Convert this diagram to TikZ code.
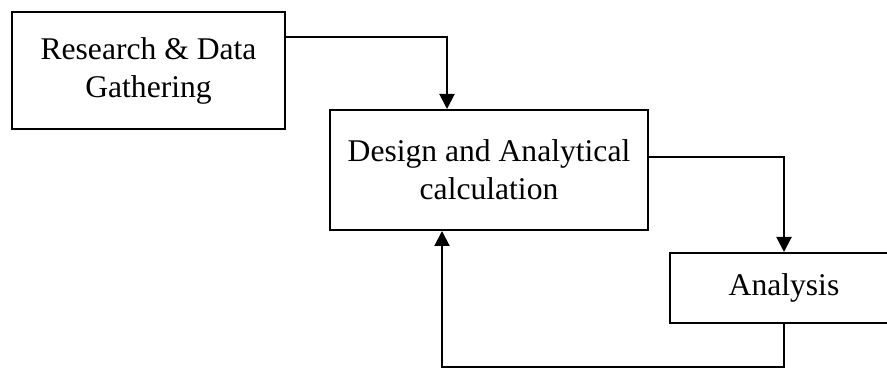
\documentclass[tikz,border=0pt]{standalone}
\usepackage{fontspec}
\setmainfont{Liberation Serif}
\usetikzlibrary{arrows.meta}

\begin{document}
\begin{tikzpicture}[x=0.5pt,y=-0.5pt,line width=1pt]
    \tikzstyle{stage} = [draw,rectangle,align=center,inner sep=0pt,
                         font=\fontsize{15.8}{19}\selectfont]
    \tikzstyle{flow} = [-{Triangle[width=7.5pt,length=7.5pt]},line width=1pt]
    \useasboundingbox (0,0) rectangle (887,368);
    \node[stage,minimum width=136.5pt,minimum height=58.5pt] (research)
        at (148.5,70.5) {Research \& Data\\Gathering};
    \node[stage,minimum width=159pt,minimum height=60pt] (design)
        at (489,170) {Design and Analytical\\calculation};
    \node[stage,minimum width=114pt,minimum height=35pt] (analysis)
        at (784,288) {Analysis};
    \draw[flow] ([yshift=16.75pt]research.east) -| ([xshift=-21pt]design.north);
    \draw[flow] ([yshift=6.5pt]design.east) -| (analysis.north);
    % loop back
    \draw[flow] (analysis.south) -- ++(0,43) -| ([xshift=-23.5pt]design.south);
\end{tikzpicture}
\end{document}
